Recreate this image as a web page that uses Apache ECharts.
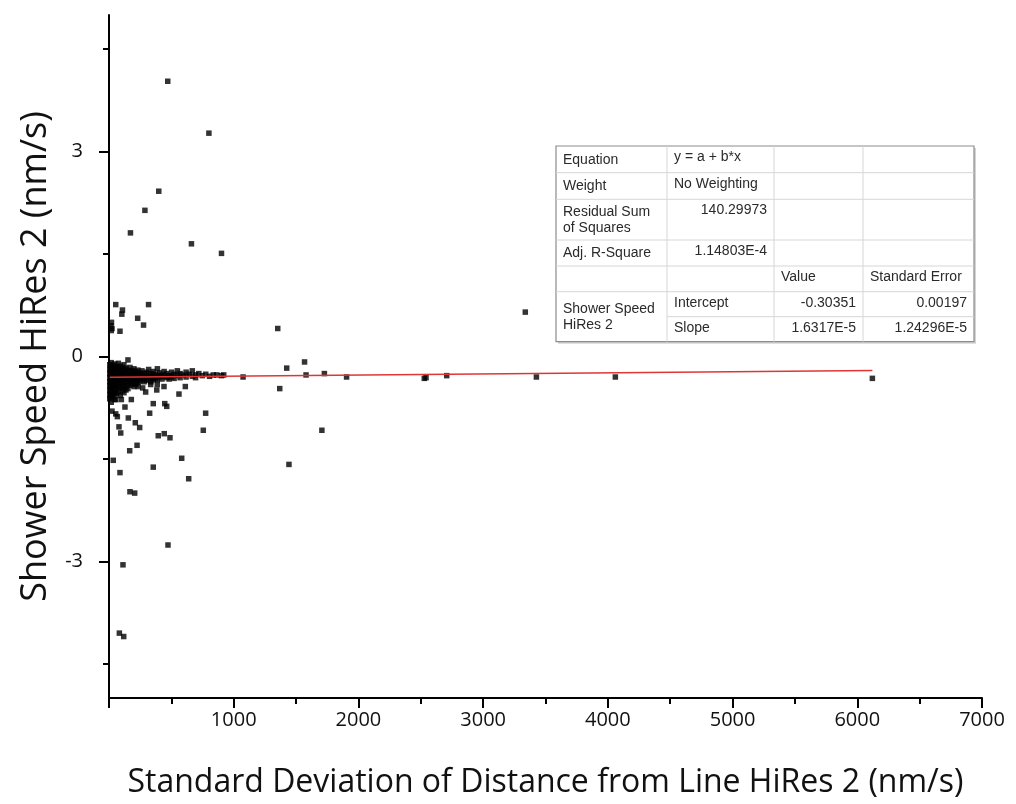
<!DOCTYPE html>
<html>
<head>
<meta charset="utf-8">
<title>Shower Speed vs Standard Deviation — HiRes 2</title>
<script src="https://cdn.jsdelivr.net/npm/echarts@6/dist/echarts.min.js"></script>
<style>
  html, body { margin: 0; padding: 0; background: #ffffff; }
  #chart { width: 1016px; height: 804px; }
</style>
</head>
<body>
<div id="chart"></div>
<script>
// ---- data ----------------------------------------------------------------
// Axis titles and tick values
const xTitle = 'Standard Deviation of Distance from Line HiRes 2 (nm/s)';
const yTitle = 'Shower Speed HiRes 2 (nm/s)';
const yLabelValues = [-3, 0, 3];
const yMinorTickValues = [-4.5, -1.5, 1.5, 4.5];

// Scattered measurements away from the main band: [std. deviation, shower speed]
const sparsePoints = [
  [471, 4.03], [801, 3.27], [399, 2.42], [288, 2.14], [172, 1.81], [661, 1.65], [902, 1.51],
  [54, 0.76], [317, 0.76], [108, 0.68], [103, 0.62], [230, 0.56], [277, 0.46],
  [20, 0.50], [16, 0.45], [24, 0.41], [18, 0.38], [88, 0.37],
  [1353, 0.41], [3338, 0.65],
  [152, -0.05], [1568, -0.08], [1425, -0.17], [1580, -0.27], [1727, -0.25], [1905, -0.30],
  [1075, -0.30], [864, -0.27], [920, -0.27], [2528, -0.32], [2542, -0.31], [2708, -0.28],
  [3427, -0.30], [4060, -0.30], [6121, -0.32],
  [1369, -0.47], [1707, -1.08], [1443, -1.58], [775, -0.83], [756, -1.08],
  [463, -0.73], [447, -0.69], [355, -0.69], [326, -0.83], [561, -0.55], [612, -0.44],
  [441, -0.44], [383, -0.49], [387, -0.41], [334, -0.41], [270, -0.46], [294, -0.52],
  [233, -0.44], [179, -0.63], [128, -0.74], [54, -0.84], [67, -0.88], [155, -0.90],
  [211, -0.97], [80, -1.03], [94, -1.12], [246, -1.04], [395, -1.16], [443, -1.13],
  [489, -1.19], [166, -1.38], [225, -1.30], [583, -1.49], [355, -1.62], [34, -1.52],
  [88, -1.70], [639, -1.79], [168, -1.98], [206, -2.00], [473, -2.76], [112, -3.05],
  [83, -4.05], [118, -4.10], [54, -0.63], [99, -0.63], [24, -0.80]
];

// Dense band of measurements near the fitted line
const bandPoints = [
  [6, -0.12], [6, -0.19], [6, -0.25], [6, -0.31], [6, -0.37], [6, -0.43], [6, -0.49], [6, -0.56], [6, -0.62],
  [18, -0.09], [18, -0.15], [18, -0.22], [18, -0.28], [18, -0.34], [18, -0.40], [18, -0.46], [18, -0.53], [18, -0.60], [18, -0.67],
  [32, -0.13], [32, -0.20], [32, -0.26], [32, -0.32], [32, -0.38], [32, -0.45], [32, -0.51], [32, -0.58],
  [46, -0.11], [46, -0.17], [46, -0.24], [46, -0.30], [46, -0.36], [46, -0.42], [46, -0.48], [46, -0.55], [46, -0.63],
  [60, -0.15], [60, -0.22], [60, -0.28], [60, -0.34], [60, -0.40], [60, -0.47], [60, -0.54],
  [75, -0.10], [75, -0.18], [75, -0.25], [75, -0.31], [75, -0.37], [75, -0.44], [75, -0.52],
  [90, -0.14], [90, -0.21], [90, -0.27], [90, -0.33], [90, -0.39], [90, -0.46], [90, -0.57],
  [105, -0.16], [105, -0.23], [105, -0.29], [105, -0.35], [105, -0.42], [105, -0.50],
  [120, -0.12], [120, -0.19], [120, -0.26], [120, -0.32], [120, -0.38], [120, -0.45], [120, -0.53],
  [136, -0.17], [136, -0.24], [136, -0.30], [136, -0.36], [136, -0.43], [136, -0.49],
  [152, -0.20], [152, -0.27], [152, -0.33], [152, -0.39], [152, -0.47],
  [168, -0.16], [168, -0.23], [168, -0.29], [168, -0.35], [168, -0.42],
  [184, -0.21], [184, -0.27], [184, -0.33], [184, -0.40],
  [200, -0.18], [200, -0.25], [200, -0.31], [200, -0.37], [200, -0.44],
  [216, -0.22], [216, -0.28], [216, -0.34], [216, -0.41],
  [232, -0.20], [232, -0.26], [232, -0.32], [232, -0.38],
  [248, -0.24], [248, -0.30], [248, -0.36],
  [264, -0.21], [264, -0.28], [264, -0.34],
  [282, -0.25], [282, -0.31], [282, -0.37],
  [300, -0.23], [300, -0.29], [300, -0.35],
  [318, -0.19], [318, -0.27], [318, -0.33],
  [336, -0.25], [336, -0.31], [336, -0.37],
  [354, -0.22], [354, -0.29], [354, -0.34],
  [372, -0.26], [372, -0.32],
  [388, -0.18], [388, -0.28], [388, -0.34],
  [406, -0.24], [406, -0.30],
  [424, -0.27], [424, -0.33],
  [442, -0.22], [442, -0.29],
  [462, -0.25], [462, -0.31],
  [482, -0.28], [482, -0.33],
  [502, -0.23], [502, -0.30],
  [522, -0.26], [522, -0.32],
  [548, -0.21], [548, -0.28],
  [570, -0.25], [570, -0.31],
  [594, -0.27],
  [618, -0.23], [618, -0.30],
  [642, -0.26],
  [668, -0.21], [668, -0.29],
  [694, -0.27], [694, -0.31],
  [720, -0.25], [748, -0.28], [776, -0.26], [806, -0.29], [836, -0.27], [902, -0.28]
];

// Linear fit results (y = a + b*x)
const fitIntercept = -0.30351;
const fitSlope = 1.6317e-5;
const fitInterceptErr = 0.00197;
const fitSlopeErr = 1.24296e-5;
const residualSumSquares = '140.29973';
const adjRSquare = '1.14803E-4';

// Fit summary table contents
const sci = v => v.toExponential().replace('e', 'E').replace('+', '');
const tableRows = [
  ['Equation', 'y = a + b*x', '', ''],
  ['Weight', 'No Weighting', '', ''],
  ['Residual Sum\nof Squares', residualSumSquares, '', ''],
  ['Adj. R-Square', adjRSquare, '', ''],
  ['', '', 'Value', 'Standard Error'],
  ['Shower Speed\nHiRes 2', 'Intercept', String(fitIntercept), fitInterceptErr.toFixed(5)],
  ['', 'Slope', sci(fitSlope), sci(fitSlopeErr)]
];

// ---- fit line from the stated coefficients ---------------------------------
const allPoints = bandPoints.concat(sparsePoints);
const xs = allPoints.map(p => p[0]);
const xLo = Math.min(...xs), xHi = Math.max(...xs);
const fitLine = [[xLo, fitIntercept + fitSlope * xLo], [xHi, fitIntercept + fitSlope * xHi]];

// ---- table drawing ----------------------------------------------------------
const colEdges = [556, 667, 774, 863, 974];
const rowEdges = [146, 172.7, 199.3, 240, 266, 291.7, 316.7, 341.7];
const tableFont = '14px "Liberation Sans", Arial, sans-serif';
const isNumeric = s => /^-?[0-9.]+(E-?[0-9]+)?$/.test(s);

function buildTable() {
  const els = [];
  const L = colEdges[0], R = colEdges[colEdges.length - 1];
  const T = rowEdges[0], B = rowEdges[rowEdges.length - 1];
  // drop shadow + body
  els.push({ type: 'rect', shape: { x: L + 2, y: T + 2, width: R - L, height: B - T },
    style: { fill: '#d4d4d4' }, z: 10 });
  els.push({ type: 'rect', shape: { x: L, y: T, width: R - L, height: B - T },
    style: { fill: '#ffffff', stroke: '#8c8c8c', lineWidth: 1.2 }, z: 11 });
  // inner grid lines
  for (let i = 1; i < rowEdges.length - 1; i++) {
    const startX = (i === 6) ? colEdges[1] : L;  // first column merged in last two rows
    els.push({ type: 'line', shape: { x1: startX, y1: rowEdges[i], x2: R, y2: rowEdges[i] },
      style: { stroke: '#d6d6d6', lineWidth: 1 }, z: 12 });
  }
  for (let j = 1; j < colEdges.length - 1; j++) {
    els.push({ type: 'line', shape: { x1: colEdges[j], y1: T, x2: colEdges[j], y2: B },
      style: { stroke: '#d6d6d6', lineWidth: 1 }, z: 12 });
  }
  // cell text
  tableRows.forEach((row, i) => {
    row.forEach((txt, j) => {
      if (!txt) return;
      let top = rowEdges[i], bottom = rowEdges[i + 1];
      if (j === 0 && i === 5) bottom = rowEdges[7];
      const y = (j === 0) ? (top + bottom) / 2 + 0.5 : top + 11;
      const right = j > 0 && isNumeric(txt);
      const x = right ? colEdges[j + 1] - 7 : colEdges[j] + 7;
      els.push({ type: 'text', z: 13,
        style: { text: txt, x: x, y: y, font: tableFont, fill: '#2a2a2a',
          textAlign: right ? 'right' : 'left', textVerticalAlign: 'middle', lineHeight: 16.6 } });
    });
  });
  return els;
}

// ---- chart ----------------------------------------------------------------
const axisFont = '"Open Sans", "DejaVu Sans", sans-serif';
const ink = '#111111';
const chart = echarts.init(document.getElementById('chart'), null, { renderer: 'canvas' });

chart.setOption({
  backgroundColor: '#ffffff',
  animation: false,
  grid: { left: 109, right: 34, top: 15, bottom: 105 },
  xAxis: {
    type: 'value', min: 0, max: 7000, interval: 1000,
    name: xTitle, nameLocation: 'middle', nameGap: 69,
    nameTextStyle: { fontFamily: axisFont, fontSize: 32, color: ink },
    axisLine: { onZero: false, lineStyle: { color: '#000', width: 2 } },
    axisTick: { length: 10, lineStyle: { color: '#000', width: 2 } },
    minorTick: { show: true, splitNumber: 2, length: 6, lineStyle: { color: '#000', width: 2 } },
    axisLabel: { showMinLabel: false, formatter: v => String(v),
      fontFamily: axisFont, fontSize: 20, color: ink, margin: 12 },
    splitLine: { show: false }, minorSplitLine: { show: false }
  },
  yAxis: [
    {
      type: 'value', min: -5, max: 5,
      name: yTitle, nameLocation: 'middle', nameGap: 45, nameRotate: 90,
      nameTextStyle: { fontFamily: axisFont, fontSize: 36, color: ink },
      axisLine: { onZero: false, lineStyle: { color: '#000', width: 2 } },
      axisTick: { customValues: yLabelValues, length: 10, lineStyle: { color: '#000', width: 2 } },
      axisLabel: { customValues: yLabelValues, fontFamily: axisFont, fontSize: 20, color: ink, margin: 26 },
      splitLine: { show: false }
    },
    {
      type: 'value', min: -5, max: 5, position: 'left',
      axisLine: { show: false, onZero: false },
      axisTick: { customValues: yMinorTickValues, length: 6, lineStyle: { color: '#000', width: 2 } },
      axisLabel: { show: false },
      splitLine: { show: false }
    }
  ],
  series: [
    {
      type: 'scatter', name: 'Shower Speed HiRes 2',
      data: allPoints, symbol: 'rect', symbolSize: 5.5,
      itemStyle: { color: '#000000' }, z: 2
    },
    {
      type: 'line', name: 'Linear Fit',
      data: fitLine, symbol: 'none',
      lineStyle: { color: '#e03535', width: 1.5 }, z: 3
    }
  ],
  graphic: buildTable()
});
</script>
</body>
</html>
